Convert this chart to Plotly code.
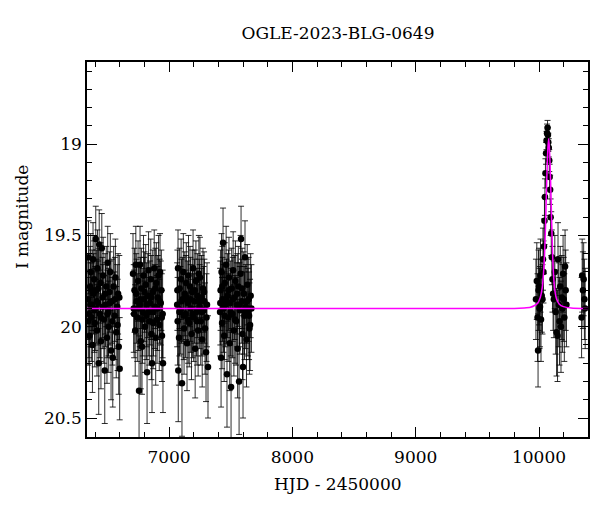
import plotly.graph_objects as go

# ---- data (HJD-2450000, I mag, error) ----
season_2013 = [
    (6342, 19.85, 0.22), (6347, 19.62, 0.20), (6351, 19.93, 0.24), (6356, 20.05, 0.25), (6360, 19.78, 0.22),
    (6365, 19.70, 0.21), (6370, 19.95, 0.24), (6374, 19.88, 0.23), (6379, 20.10, 0.26), (6384, 19.63, 0.20),
    (6388, 19.82, 0.22), (6393, 19.74, 0.21), (6398, 19.98, 0.24), (6402, 19.90, 0.23), (6406, 19.52, 0.18),
    (6411, 19.80, 0.22), (6416, 20.02, 0.25), (6420, 19.68, 0.21), (6425, 19.87, 0.23), (6430, 20.20, 0.28),
    (6434, 19.55, 0.19), (6439, 19.93, 0.24), (6444, 19.76, 0.22), (6448, 20.08, 0.26), (6455, 19.57, 0.19),
    (6460, 19.84, 0.22), (6466, 19.72, 0.21), (6472, 19.96, 0.24), (6479, 20.24, 0.29), (6485, 19.88, 0.23),
    (6491, 19.78, 0.22), (6497, 20.06, 0.25), (6503, 19.65, 0.20), (6509, 19.92, 0.24), (6511, 20.00, 0.25),
    (6518, 19.81, 0.22), (6524, 19.70, 0.21), (6530, 20.13, 0.27), (6537, 19.86, 0.23), (6544, 20.17, 0.27),
    (6551, 19.78, 0.22), (6558, 19.94, 0.24), (6565, 19.73, 0.21), (6572, 20.03, 0.25), (6580, 19.89, 0.23),
    (6587, 19.82, 0.22), (6592, 20.11, 0.26), (6597, 19.84, 0.23), (6600, 20.23, 0.28),
    (6345, 19.97, 0.24), (6362, 19.88, 0.23), (6377, 19.80, 0.22), (6395, 19.91, 0.23), (6414, 19.86, 0.23),
    (6428, 19.79, 0.22), (6446, 19.95, 0.24), (6463, 19.89, 0.23), (6482, 19.82, 0.22), (6500, 19.93, 0.24),
    (6521, 19.87, 0.23), (6541, 19.97, 0.24), (6561, 19.85, 0.23), (6583, 19.99, 0.25),
]
season_2014 = [
    (6708, 19.71, 0.22), (6714, 19.90, 0.24), (6720, 19.80, 0.23), (6726, 20.02, 0.25), (6731, 19.66, 0.21),
    (6737, 19.86, 0.23), (6743, 19.95, 0.24), (6749, 19.75, 0.22), (6757, 20.35, 0.30), (6763, 19.88, 0.23),
    (6765, 19.66, 0.21), (6771, 20.08, 0.26), (6776, 19.79, 0.22), (6781, 20.11, 0.26), (6787, 19.92, 0.24),
    (6793, 19.72, 0.22), (6799, 19.85, 0.23), (6805, 20.00, 0.25), (6811, 19.77, 0.22), (6816, 19.94, 0.24),
    (6822, 20.25, 0.28), (6828, 19.83, 0.23), (6834, 19.69, 0.21), (6840, 19.97, 0.24), (6846, 19.87, 0.23),
    (6852, 19.74, 0.22), (6857, 20.04, 0.25), (6862, 20.20, 0.27), (6868, 19.81, 0.23), (6874, 19.92, 0.24),
    (6880, 19.68, 0.21), (6886, 19.89, 0.23), (6892, 20.06, 0.26), (6897, 19.76, 0.22), (6903, 19.96, 0.24),
    (6909, 19.84, 0.23), (6915, 19.72, 0.22), (6921, 19.99, 0.25), (6927, 19.70, 0.21), (6933, 19.87, 0.23),
    (6938, 19.80, 0.22), (6943, 20.05, 0.25), (6948, 19.93, 0.24), (6951, 20.20, 0.27),
    (6717, 19.93, 0.24), (6734, 19.82, 0.22), (6752, 19.90, 0.23), (6768, 19.85, 0.23), (6784, 19.96, 0.24),
    (6802, 19.81, 0.22), (6819, 19.88, 0.23), (6837, 19.92, 0.24), (6855, 19.84, 0.23), (6871, 19.98, 0.25),
    (6889, 19.79, 0.22), (6906, 19.90, 0.23), (6924, 19.86, 0.23), (6941, 19.95, 0.24),
]
season_2015 = [
    (7066, 19.88, 0.23), (7070, 19.97, 0.24), (7073, 19.68, 0.21), (7075, 20.24, 0.28), (7081, 20.06, 0.26),
    (7086, 19.79, 0.22), (7092, 19.91, 0.24), (7098, 19.74, 0.22), (7105, 20.31, 0.29), (7110, 19.85, 0.23),
    (7116, 19.70, 0.21), (7122, 20.01, 0.25), (7128, 19.82, 0.23), (7134, 19.93, 0.24), (7140, 19.76, 0.22),
    (7146, 20.09, 0.26), (7152, 19.87, 0.23), (7158, 19.72, 0.22), (7164, 19.98, 0.24), (7170, 19.78, 0.22),
    (7176, 19.90, 0.24), (7182, 20.04, 0.25), (7188, 19.81, 0.23), (7195, 19.68, 0.21), (7200, 19.95, 0.24),
    (7206, 19.86, 0.23), (7212, 20.12, 0.27), (7218, 19.75, 0.22), (7224, 19.92, 0.24), (7230, 19.83, 0.23),
    (7236, 20.02, 0.25), (7242, 19.71, 0.21), (7248, 19.89, 0.23), (7251, 19.73, 0.22), (7257, 19.97, 0.24),
    (7263, 19.84, 0.23), (7269, 20.07, 0.26), (7275, 19.79, 0.22), (7281, 19.91, 0.24), (7287, 19.86, 0.23),
    (7292, 20.01, 0.25), (7300, 20.14, 0.27), (7308, 19.88, 0.23), (7316, 20.22, 0.28),
    (7068, 19.80, 0.22), (7084, 19.92, 0.24), (7101, 19.86, 0.23), (7119, 19.94, 0.24), (7137, 19.84, 0.23),
    (7155, 19.96, 0.24), (7173, 19.85, 0.23), (7191, 19.93, 0.24), (7209, 19.80, 0.22), (7227, 19.97, 0.24),
    (7245, 19.86, 0.23), (7266, 19.92, 0.24), (7284, 19.81, 0.22), (7304, 19.95, 0.24),
]
season_2016 = [
    (7414, 19.92, 0.24), (7418, 19.80, 0.22), (7422, 20.17, 0.27), (7426, 19.70, 0.21), (7430, 19.98, 0.25),
    (7434, 19.85, 0.23), (7438, 19.54, 0.19), (7442, 19.90, 0.24), (7447, 20.05, 0.25), (7452, 19.76, 0.22),
    (7457, 19.88, 0.23), (7463, 19.66, 0.21), (7470, 20.26, 0.29), (7475, 19.83, 0.23), (7480, 19.95, 0.24),
    (7486, 19.73, 0.22), (7492, 20.09, 0.26), (7497, 19.87, 0.23), (7503, 20.33, 0.30), (7508, 19.79, 0.22),
    (7514, 19.93, 0.24), (7520, 19.69, 0.21), (7526, 20.02, 0.25), (7532, 19.84, 0.23), (7538, 19.75, 0.22),
    (7544, 19.97, 0.24), (7550, 19.88, 0.23), (7556, 20.12, 0.27), (7562, 19.78, 0.22), (7568, 20.30, 0.29),
    (7574, 19.91, 0.24), (7580, 19.71, 0.21), (7584, 19.52, 0.18), (7590, 19.86, 0.23), (7596, 20.04, 0.25),
    (7600, 20.22, 0.28), (7606, 19.82, 0.23), (7612, 19.94, 0.24), (7616, 19.62, 0.20), (7622, 19.89, 0.23),
    (7628, 20.07, 0.26), (7634, 19.77, 0.22), (7640, 19.92, 0.24), (7646, 19.85, 0.23), (7652, 20.01, 0.25),
    (7657, 19.99, 0.25), (7662, 19.83, 0.23), (7668, 19.90, 0.24),
    (7416, 19.87, 0.23), (7432, 19.78, 0.22), (7450, 19.94, 0.24), (7466, 19.86, 0.23), (7483, 19.80, 0.22),
    (7500, 19.92, 0.24), (7517, 19.85, 0.23), (7535, 19.96, 0.24), (7553, 19.82, 0.22), (7571, 19.88, 0.23),
    (7593, 19.79, 0.22), (7609, 19.91, 0.24), (7631, 19.86, 0.23), (7649, 19.94, 0.24),
]
season_2023 = [
    (9975, 19.85, 0.22), (9982, 19.75, 0.21), (9988, 19.95, 0.24), (9992, 20.13, 0.20), (9996, 19.80, 0.22),
    (10000, 19.78, 0.21), (10004, 19.90, 0.22), (10008, 19.89, 0.22), (10012, 19.72, 0.20), (10016, 19.96, 0.23),
    (10022, 19.83, 0.20), (10028, 19.85, 0.19), (10032, 19.63, 0.17), (10036, 19.70, 0.17), (10040, 19.56, 0.15),
    (10044, 19.42, 0.13), (10048, 19.29, 0.10), (10052, 19.16, 0.08), (10057, 19.05, 0.06), (10061, 18.98, 0.05),
    (10065, 18.94, 0.05), (10069, 18.91, 0.04), (10072, 18.95, 0.04), (10075, 18.99, 0.05), (10079, 19.02, 0.05),
    (10083, 19.09, 0.06), (10086, 19.18, 0.07), (10090, 19.25, 0.08), (10094, 19.40, 0.10), (10099, 19.49, 0.12),
    (10104, 19.62, 0.15), (10109, 19.74, 0.18), (10114, 19.82, 0.20), (10120, 19.85, 0.21), (10128, 19.70, 0.20),
    (10135, 19.92, 0.23), (10142, 20.03, 0.24), (10150, 20.05, 0.25), (10154, 19.63, 0.20), (10160, 19.88, 0.23),
    (10166, 19.97, 0.24), (10172, 19.78, 0.22), (10178, 20.00, 0.25), (10184, 19.84, 0.23), (10190, 19.90, 0.24),
    (10195, 19.71, 0.21), (10200, 19.85, 0.23), (10205, 19.95, 0.24), (10211, 19.67, 0.20), (10216, 19.80, 0.22),
    (10222, 19.88, 0.23),
]
season_2024 = [
    (10345, 19.95, 0.22), (10350, 19.72, 0.20), (10356, 19.80, 0.21), (10362, 19.74, 0.20),
    (10368, 19.85, 0.22), (10374, 19.90, 0.22),
]

# model curve
model_hjd = [6335, 9800, 9880, 9930, 9960, 9990, 10010, 10025, 10035, 10045, 10053, 10060, 10066,
             10072, 10078, 10084, 10090, 10096, 10103, 10110, 10118, 10128, 10143, 10163, 10198, 10260, 10400]
model_mag = [19.90, 19.90, 19.897, 19.893, 19.885, 19.87, 19.84, 19.79, 19.72, 19.60, 19.44, 19.26, 19.12,
             19.02, 18.97, 19.02, 19.12, 19.26, 19.44, 19.60, 19.72, 19.80, 19.85, 19.875, 19.89, 19.897, 19.90]

title_text = "OGLE-2023-BLG-0649"
x_title = "HJD - 2450000"
y_title = "I magnitude"

seasons = [season_2013, season_2014, season_2015, season_2016, season_2023, season_2024]
hjd = [p[0] for s in seasons for p in s]
mag = [p[1] for s in seasons for p in s]
err = [p[2] for s in seasons for p in s]

FONT = "DejaVu Serif"
PAGE_OFF = 8  # default body margin of the html page

fig = go.Figure()
fig.add_trace(go.Scatter(
    x=hjd, y=mag, mode="markers",
    marker=dict(color="black", size=6.5),
    error_y=dict(type="data", array=err, visible=True, color="rgba(0,0,0,0.82)", thickness=1, width=3),
    showlegend=False, hoverinfo="skip",
))
fig.add_trace(go.Scatter(
    x=model_hjd, y=model_mag, mode="lines", line=dict(color="#ff00ff", width=1.5, shape="spline", smoothing=0.6),
    showlegend=False, hoverinfo="skip",
))

axis_common = dict(
    showgrid=False, zeroline=False, showline=True, linecolor="black", linewidth=1.5,
    mirror="allticks", ticks="inside", ticklen=10, tickwidth=1, tickcolor="black",
    tickfont=dict(family=FONT, size=17, color="black"), automargin=False,
)
fig.update_layout(
    width=600, height=512,
    margin=dict(l=87 - PAGE_OFF, r=12 + PAGE_OFF, t=62 - PAGE_OFF, b=75 + PAGE_OFF),
    paper_bgcolor="white", plot_bgcolor="white",
    title=dict(text=title_text, x=(338 - PAGE_OFF) / 600, xanchor="center", y=1 - (33 - PAGE_OFF) / 512,
               yanchor="middle", font=dict(family=FONT, size=17, color="black")),
    xaxis=dict(range=[6335, 10397], dtick=1000, tick0=0, tickformat="d", ticklabelstandoff=4,
               minor=dict(dtick=200, tick0=0, ticks="inside", ticklen=5, tickcolor="black"),
               **axis_common),
    yaxis=dict(range=[20.604, 18.55], dtick=0.5, tick0=0,
               minor=dict(dtick=0.1, tick0=0, ticks="inside", ticklen=5, tickcolor="black"),
               **axis_common),
    annotations=[
        dict(text=x_title, xref="paper", yref="paper", x=0.5, y=-47 / 375, xanchor="center", yanchor="middle",
             showarrow=False, font=dict(family=FONT, size=17, color="black")),
        dict(text=y_title, xref="paper", yref="paper", x=-65 / 501, y=(437 - 217) / 375, xanchor="center",
             yanchor="middle", textangle=-90, showarrow=False, font=dict(family=FONT, size=17, color="black")),
    ],
)
fig.write_html("out.html")
